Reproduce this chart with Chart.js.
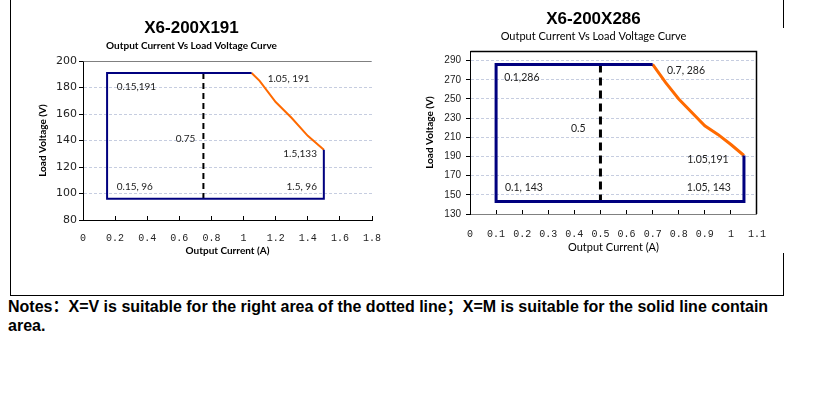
<!DOCTYPE html>
<html><head><meta charset="utf-8">
<script src="https://cdn.jsdelivr.net/npm/chart.js@4.4.1/dist/chart.umd.min.js"></script>
<style>
html,body{margin:0;padding:0;background:#fff;width:814px;height:395px;overflow:hidden;}
#wrap{position:relative;width:814px;height:395px;}
.ln{position:absolute;background:#000;}
canvas{position:absolute;}
#notes{position:absolute;left:8px;top:297px;font-family:"Liberation Sans Narrow","Liberation Sans",Arial,"Noto Sans CJK SC",sans-serif;font-weight:bold;font-size:16px;line-height:19px;color:#000;white-space:nowrap;transform-origin:0 0;}
#n1{display:inline-block;}
</style></head>
<body><div id="wrap">
<div class="ln" style="left:10px;top:0;width:1px;height:296px"></div>
<div class="ln" style="left:10px;top:295px;width:774px;height:1px"></div>
<div class="ln" style="left:783px;top:0;width:1px;height:28px"></div>
<div class="ln" style="left:783px;top:253px;width:1px;height:43px"></div>
<canvas id="c1" width="398" height="262" style="left:11px;top:0"></canvas>
<canvas id="c2" width="370" height="262" style="left:414px;top:0"></canvas>
<div id="notes"><span id="n1">Notes：X=V is suitable for the right area of the dotted line；X=M is suitable for the solid line contain</span><br><span>area.</span></div>
</div>
<script>
// ---------- Left chart: X6-200X191 ----------
const leftBoxX = [1.05, 0.15, 0.15, 1.5, 1.5];
const leftBoxY = [191, 191, 96, 96, 133];
const leftCurveX = [1.05, 1.1, 1.2, 1.3, 1.4, 1.5];
const leftCurveY = [191, 185, 169, 157, 143.5, 133];
const leftSplitX = [0.75, 0.75];
const leftSplitY = [191, 96];
const leftXTicks = [0, 0.2, 0.4, 0.6, 0.8, 1, 1.2, 1.4, 1.6, 1.8];
const leftXTickLabels = ['0', '0.2', '0.4', '0.6', '0.8', '1', '1.2', '1.4', '1.6', '1.8'];
const leftYTicks = [80, 100, 120, 140, 160, 180, 200];
const leftYTickLabels = ['80', '100', '120', '140', '160', '180', '200'];
const leftNoteText = ['0.15,191', '1.05, 191', '0.75', '1.5,133', '0.15, 96', '1.5, 96'];
const leftNoteX = [0.21, 1.15, 0.70, 1.457, 0.21, 1.457];
const leftNoteY = [180.5, 186.5, 141.5, 130, 105, 105];
const leftNoteAlign = ['left', 'left', 'right', 'right', 'left', 'right'];

// ---------- Right chart: X6-200X286 ----------
const rightBoxX = [0.7, 0.1, 0.1, 1.05, 1.05];
const rightBoxY = [286, 286, 143, 143, 191];
const rightCurveX = [0.7, 0.75, 0.8, 0.9, 0.95, 1.0, 1.05];
const rightCurveY = [286, 267, 250, 222, 213, 202.5, 191];
const rightSplitX = [0.5, 0.5];
const rightSplitY = [286, 143];
const rightXTicks = [0, 0.1, 0.2, 0.3, 0.4, 0.5, 0.6, 0.7, 0.8, 0.9, 1, 1.1];
const rightXTickLabels = ['0', '0.1', '0.2', '0.3', '0.4', '0.5', '0.6', '0.7', '0.8', '0.9', '1', '1.1'];
const rightYTicks = [130, 150, 170, 190, 210, 230, 250, 270, 290];
const rightYTickLabels = ['130', '150', '170', '190', '210', '230', '250', '270', '290'];
const rightNoteText = ['0.1,286', '0.7, 286', '0.5', '1.05,191', '0.1, 143', '1.05, 143'];
const rightNoteX = [0.131, 0.755, 0.443, 0.991, 0.134, 1.0];
const rightNoteY = [272.5, 280, 219, 187, 157.5, 157.5];
const rightNoteAlign = ['left', 'left', 'right', 'right', 'left', 'right'];

const pts = (xs, ys) => xs.map((x, i) => ({x: x, y: ys[i]}));

const notesPlugin = {
  id: 'notes',
  afterDatasetsDraw(chart, args, opts) {
    const ctx = chart.ctx, xs = chart.scales.x, ys = chart.scales.y;
    ctx.save();
    ctx.font = opts.font;
    ctx.fillStyle = opts.color;
    ctx.textBaseline = 'middle';
    opts.text.forEach((t, i) => {
      ctx.textAlign = opts.align[i];
      ctx.fillText(t, xs.getPixelForValue(opts.x[i]), ys.getPixelForValue(opts.y[i]));
    });
    ctx.restore();
  }
};
const framePlugin = {
  id: 'frame',
  afterDraw(chart, args, opts) {
    const a = chart.chartArea, ctx = chart.ctx;
    ctx.save();
    ctx.lineWidth = opts.width;
    ctx.strokeStyle = opts.color;
    ctx.beginPath();
    const t = Math.round(a.top) + 0.5, r = Math.round(a.right) - 0.5;
    ctx.moveTo(Math.round(a.left) + 0.5, t);
    ctx.lineTo(r, t);
    if (opts.right) ctx.lineTo(r, Math.round(a.bottom));
    ctx.stroke();
    ctx.restore();
  }
};

function makeChart(id, cfg) {
  const yMin = cfg.yTicks[0];
  return new Chart(document.getElementById(id), {
    type: 'scatter',
    data: {
      datasets: [
        {data: pts(cfg.boxX, cfg.boxY), showLine: true, borderColor: '#00007f', borderWidth: cfg.lw, pointRadius: 0, borderJoinStyle: 'miter', tension: 0},
        {data: pts(cfg.curveX, cfg.curveY), showLine: true, borderColor: '#ff6a00', borderWidth: cfg.lw, pointRadius: 0, tension: 0},
        {data: pts(cfg.splitX, cfg.splitY), showLine: true, borderColor: '#000', borderWidth: cfg.lw, borderDash: cfg.dash, pointRadius: 0}
      ]
    },
    options: {
      responsive: false,
      animation: false,
      layout: {padding: {top: 0, left: 0, bottom: 0, right: cfg.padRight}},
      plugins: {
        legend: {display: false},
        tooltip: {enabled: false},
        title: {display: true, text: cfg.title, color: '#000', font: {family: '"Liberation Sans", Arial, sans-serif', size: 17, weight: 'bold'}, padding: cfg.titlePad},
        subtitle: {display: true, text: 'Output Current Vs Load Voltage Curve', color: '#000', font: cfg.subFont, padding: cfg.subPad},
        notes: {text: cfg.noteText, x: cfg.noteX, y: cfg.noteY, align: cfg.noteAlign, font: cfg.noteFont, color: '#222'},
        frame: cfg.frame
      },
      scales: {
        x: {
          type: 'linear', min: cfg.xTicks[0], max: cfg.xTicks[cfg.xTicks.length - 1],
          afterBuildTicks: s => { s.ticks = cfg.xTicks.map(v => ({value: v})); },
          afterFit: s => { s.height = cfg.xH; },
          ticks: {autoSkip: false, maxRotation: 0, padding: cfg.xTickPad, color: '#222', font: {family: '"Liberation Mono", "DejaVu Sans Mono", monospace', size: 10}, callback: (v, i) => cfg.xLabels[i]},
          grid: {drawOnChartArea: false, drawTicks: true, tickLength: -4, tickColor: '#000', tickWidth: 1},
          border: {display: true, color: cfg.xAxisColor, width: 1},
          title: {display: true, text: 'Output Current (A)', color: '#000', font: cfg.xTitleFont, padding: {top: 0, bottom: cfg.xTitlePad}}
        },
        y: {
          type: 'linear', min: yMin, max: cfg.yMax,
          afterBuildTicks: s => { s.ticks = cfg.yTicks.map(v => ({value: v})); },
          afterFit: s => { s.width = cfg.yW; },
          ticks: {autoSkip: false, padding: cfg.yTickPad, color: '#222', font: cfg.yTickFont, callback: (v, i) => cfg.yLabels[i]},
          grid: {color: c => (c.tick && c.tick.value === yMin) ? 'rgba(0,0,0,0)' : '#c6cde0', lineWidth: 1, drawTicks: true, tickLength: 4, tickColor: '#000'},
          border: {display: true, color: '#000', width: 1, dash: [3, 2]},
          title: {display: true, text: 'Load Voltage (V)', color: '#000', font: {family: 'Lato, "Liberation Sans", sans-serif', size: 10, weight: 'bold'}, padding: {top: cfg.yTitlePad, bottom: 0}}
        }
      }
    },
    plugins: [notesPlugin, framePlugin]
  });
}

makeChart('c1', {
  title: 'X6-200X191',
  boxX: leftBoxX, boxY: leftBoxY, curveX: leftCurveX, curveY: leftCurveY, splitX: leftSplitX, splitY: leftSplitY,
  lw: 2, dash: [6, 4],
  xTicks: leftXTicks, xLabels: leftXTickLabels, yTicks: leftYTicks, yLabels: leftYTickLabels, yMax: 200,
  noteText: leftNoteText, noteX: leftNoteX, noteY: leftNoteY, noteAlign: leftNoteAlign,
  noteFont: '10px Lato, "Liberation Sans", sans-serif',
  padRight: 37, yW: 72, xH: 42, xTickPad: 16, yTickPad: 2, yTitlePad: 26, xTitlePad: 5,
  titlePad: {top: 17.8, bottom: 0},
  subFont: {family: 'Lato, "Liberation Sans", sans-serif', size: 10, weight: 'bold'},
  subPad: {top: 1.8, bottom: 9},
  xTitleFont: {family: 'Lato, "Liberation Sans", sans-serif', size: 10, weight: 'bold'},
  yTickFont: {family: '"DejaVu Sans", sans-serif', size: 11},
  xAxisColor: '#000',
  frame: {color: '#808080', width: 1, right: false}
});

makeChart('c2', {
  title: 'X6-200X286',
  boxX: rightBoxX, boxY: rightBoxY, curveX: rightCurveX, curveY: rightCurveY, splitX: rightSplitX, splitY: rightSplitY,
  lw: 3, dash: [8, 5],
  xTicks: rightXTicks, xLabels: rightXTickLabels, yTicks: rightYTicks, yLabels: rightYTickLabels, yMax: 300,
  noteText: rightNoteText, noteX: rightNoteX, noteY: rightNoteY, noteAlign: rightNoteAlign,
  noteFont: '10.5px Lato, "Liberation Sans", sans-serif',
  padRight: 11, yW: 56, xH: 48, xTickPad: 18, yTickPad: 5, yTitlePad: 10, xTitlePad: 8.4,
  titlePad: {top: 8.8, bottom: 0},
  subFont: {family: 'Lato, "Liberation Sans", sans-serif', size: 11, weight: 'normal'},
  subPad: {top: 0.2, bottom: 8.4},
  xTitleFont: {family: 'Lato, "Liberation Sans", sans-serif', size: 11, weight: 'normal'},
  yTickFont: {family: '"Liberation Sans", Arial, sans-serif', size: 10},
  xAxisColor: '#808080',
  frame: {color: '#000', width: 1.5, right: true}
});

function fitNotes() {
  const n = document.getElementById('notes');
  const w = document.getElementById('n1').offsetWidth;
  if (w > 0) n.style.transform = 'scaleX(' + (760 / w) + ')';
}
fitNotes();
if (document.fonts && document.fonts.ready) document.fonts.ready.then(fitNotes);
</script>
</body></html>
